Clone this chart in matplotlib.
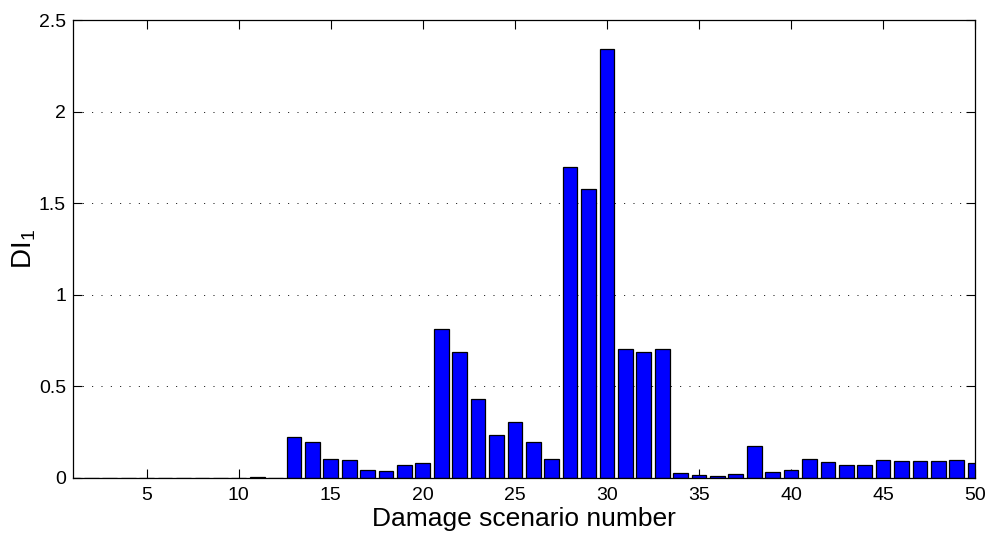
import matplotlib
matplotlib.use("Agg")
import matplotlib.pyplot as plt
import numpy as np

plt.rcParams['font.family'] = ['Liberation Sans', 'DejaVu Sans']
plt.rcParams['mathtext.fontset'] = 'custom'
plt.rcParams['mathtext.rm'] = 'Liberation Sans'
plt.rcParams['mathtext.it'] = 'Liberation Sans'

scenarios = list(range(1, 51))
di_values = [0, 0, 0, 0, 0, 0, 0, 0, 0, 0,
             0.004, 0, 0.221, 0.194, 0.102, 0.095, 0.042, 0.035, 0.068, 0.077,
             0.813, 0.686, 0.429, 0.234, 0.303, 0.194, 0.101, 1.696, 1.578, 2.344,
             0.702, 0.688, 0.704, 0.025, 0.016, 0.009, 0.018, 0.172, 0.031, 0.044,
             0.100, 0.086, 0.071, 0.068, 0.097, 0.090, 0.093, 0.088, 0.095, 0.082]
x_ticks = [5, 10, 15, 20, 25, 30, 35, 40, 45, 50]
y_ticks = [0, 0.5, 1, 1.5, 2, 2.5]
y_tick_labels = ['0', '0.5', '1', '1.5', '2', '2.5']

fig = plt.figure(figsize=(9.87, 5.36), dpi=100)
ax = fig.add_axes([0.074, 0.109, 0.914, 0.853])

ax.bar(scenarios, di_values, width=0.8, color=(0, 0, 1), edgecolor='black',
       linewidth=0.9, zorder=2)

ax.set_xlim(1, 50)
ax.set_ylim(0, 2.5)
ax.set_xticks(x_ticks)
ax.set_yticks(y_ticks)
ax.set_yticklabels(y_tick_labels)

ax.set_axisbelow(True)
ax.yaxis.grid(True, color='black', linewidth=0.7, linestyle=(0, (1.0, 8.6)))
ax.xaxis.grid(False)

ax.tick_params(direction='in', length=6.5, width=0.8, top=True, right=True,
               labelsize=14)
ax.tick_params(axis='x', pad=7)
ax.tick_params(axis='y', pad=5)
for s in ax.spines.values():
    s.set_linewidth(0.9)
    s.set_zorder(3)

ax.set_xlabel('Damage scenario number', fontsize=19, labelpad=2)
ax.set_ylabel(r'DI$_1$', fontsize=20, labelpad=1)

fig.savefig('out.png', dpi=100)
